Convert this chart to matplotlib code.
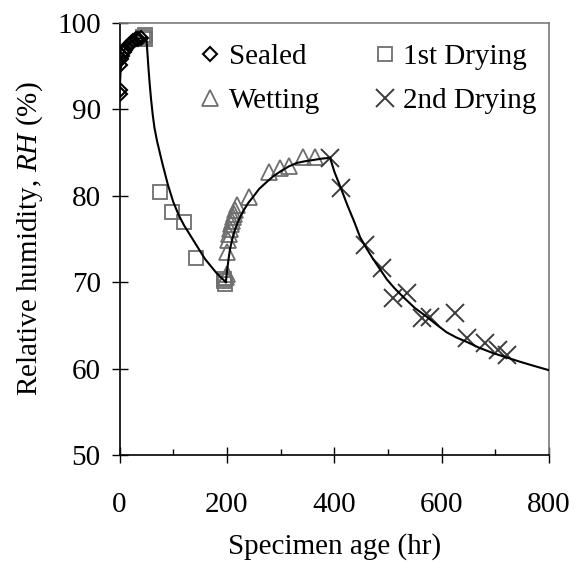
import matplotlib
matplotlib.use("Agg")
import matplotlib.pyplot as plt
from matplotlib.ticker import MultipleLocator

# ---- data ----
sealed_hr = [0, 0, 1, 3, 5, 8, 11, 14, 17, 21, 25, 30, 35, 40]
sealed_rh = [92.2, 91.8, 95.1, 95.8, 96.2, 96.6, 96.9, 97.2, 97.5, 97.7, 97.9, 98.1, 98.2, 98.3]

dry1_hr = [44, 47, 48, 75, 98, 120, 142, 194, 195, 196]
dry1_rh = [98.4, 98.6, 98.2, 80.4, 78.1, 77.0, 72.8, 70.4, 70.1, 69.8]

wet_hr = [199, 200, 201, 202, 203, 205, 207, 209, 211, 213, 215, 218, 241, 279, 298, 316, 341, 364]
wet_rh = [70.6, 71.0, 73.5, 74.9, 75.6, 76.2, 76.7, 77.1, 77.5, 77.9, 78.4, 78.9, 79.9, 82.8, 83.2, 83.4, 84.5, 84.5]

dry2_hr = [392, 412, 457, 489, 510, 535, 563, 578, 625, 647, 680, 705, 721]
dry2_rh = [84.4, 80.9, 74.3, 71.6, 68.2, 68.7, 65.9, 66.0, 66.4, 63.5, 63.0, 62.2, 61.6]

# fitted model curve
fit_sealed_hr = [0, 2, 5, 10, 15, 20, 30, 40, 50]
fit_sealed_rh = [91.8, 94.5, 96.0, 97.0, 97.5, 97.8, 98.1, 98.25, 98.3]

fit_dry1_hr = [50, 52, 54, 56, 58.7, 62, 65, 70, 75, 80, 90, 100, 110, 120, 137, 159, 180, 198]
fit_dry1_rh = [98.3, 96.5, 94.7, 93.1, 91.2, 89.3, 87.9, 86.3, 85.0, 83.7, 81.3, 79.3, 77.8, 76.6, 74.9, 72.7, 71.1, 70.0]

fit_wet_hr = [198, 199.5, 201, 203.5, 206, 210, 215, 222, 230, 240, 249, 260, 274, 287, 299, 315, 330, 345, 361, 376, 392]
fit_wet_rh = [70.0, 70.9, 71.7, 72.9, 73.9, 75.0, 76.1, 77.2, 78.2, 79.2, 79.9, 80.8, 81.6, 82.3, 82.8, 83.4, 83.8, 84.0, 84.15, 84.3, 84.4]

fit_dry2_hr = [392, 400, 412, 425, 437, 448, 460, 472, 485, 498, 512, 528, 550, 572, 590, 609, 627, 646, 670, 695, 720, 745, 772, 800]
fit_dry2_rh = [84.4, 82.8, 80.9, 78.8, 77.0, 75.2, 73.9, 72.7, 71.5, 70.3, 69.3, 68.3, 67.0, 66.0, 65.1, 64.2, 63.6, 63.1, 62.4, 61.8, 61.3, 60.8, 60.3, 59.8]

x_ticks = [0, 200, 400, 600, 800]
y_ticks = [50, 60, 70, 80, 90, 100]

# ---- style ----
plt.rcParams['font.family'] = ['Liberation Serif', 'DejaVu Serif']
plt.rcParams['mathtext.fontset'] = 'custom'
plt.rcParams['mathtext.rm'] = 'Liberation Serif'
plt.rcParams['mathtext.it'] = 'Liberation Serif:italic'

FS = 21
fig = plt.figure(figsize=(5.83, 5.63), dpi=100)
ax = fig.add_axes([0.205, 0.192, 0.737, 0.767])

gray = '#6e6e6e'
dark = '#3c3c3c'

for hx, hy in [(fit_sealed_hr, fit_sealed_rh), (fit_dry1_hr, fit_dry1_rh),
               (fit_wet_hr, fit_wet_rh), (fit_dry2_hr, fit_dry2_rh)]:
    ax.plot(hx, hy, color='black', lw=1.5, zorder=3, solid_joinstyle='round')

h1, = ax.plot(sealed_hr, sealed_rh, ls='none', marker='D', ms=7, mfc='none',
              mec='black', mew=1.5, label='Sealed', zorder=4)
h2, = ax.plot(dry1_hr, dry1_rh, ls='none', marker='s', ms=10.5, mfc='none',
              mec=gray, mew=1.3, label='1st Drying', zorder=2)
h3, = ax.plot(wet_hr, wet_rh, ls='none', marker='^', ms=11, mfc='none',
              mec=gray, mew=1.3, label='Wetting', zorder=2)
h4, = ax.plot(dry2_hr, dry2_rh, ls='none', marker='x', ms=12.5,
              mec=dark, mew=1.4, label='2nd Drying', zorder=2)

ax.set_xlim(0, 800)
ax.set_ylim(50, 100)
ax.set_xticks(x_ticks)
ax.set_yticks(y_ticks)
ax.xaxis.set_minor_locator(MultipleLocator(100))

ax.tick_params(axis='x', which='major', direction='inout', length=11, width=1,
               pad=21, labelsize=FS, colors='black')
ax.tick_params(axis='x', which='minor', direction='in', length=4.5, width=1)
ax.tick_params(axis='y', which='major', direction='inout', length=11, width=1,
               pad=8, labelsize=FS)

for s in ['left', 'bottom']:
    ax.spines[s].set_color('black')
    ax.spines[s].set_linewidth(1.2)
for s in ['top', 'right']:
    ax.spines[s].set_color('#7a7a7a')
    ax.spines[s].set_linewidth(1.2)

ax.set_xlabel('Specimen age (hr)', fontsize=FS, labelpad=11)
ax.set_ylabel(r'Relative humidity, $\mathit{RH}$ (%)', fontsize=FS, labelpad=9)

leg = ax.legend(handles=[h1, h3, h2, h4], ncol=2, frameon=False, fontsize=FS,
                loc='upper left', bbox_to_anchor=(0.137, 1.0), numpoints=1,
                handlelength=0.8, handletextpad=0.22, columnspacing=1.83,
                labelspacing=0.6, borderaxespad=0.3)

fig.savefig('out.png', dpi=100)
